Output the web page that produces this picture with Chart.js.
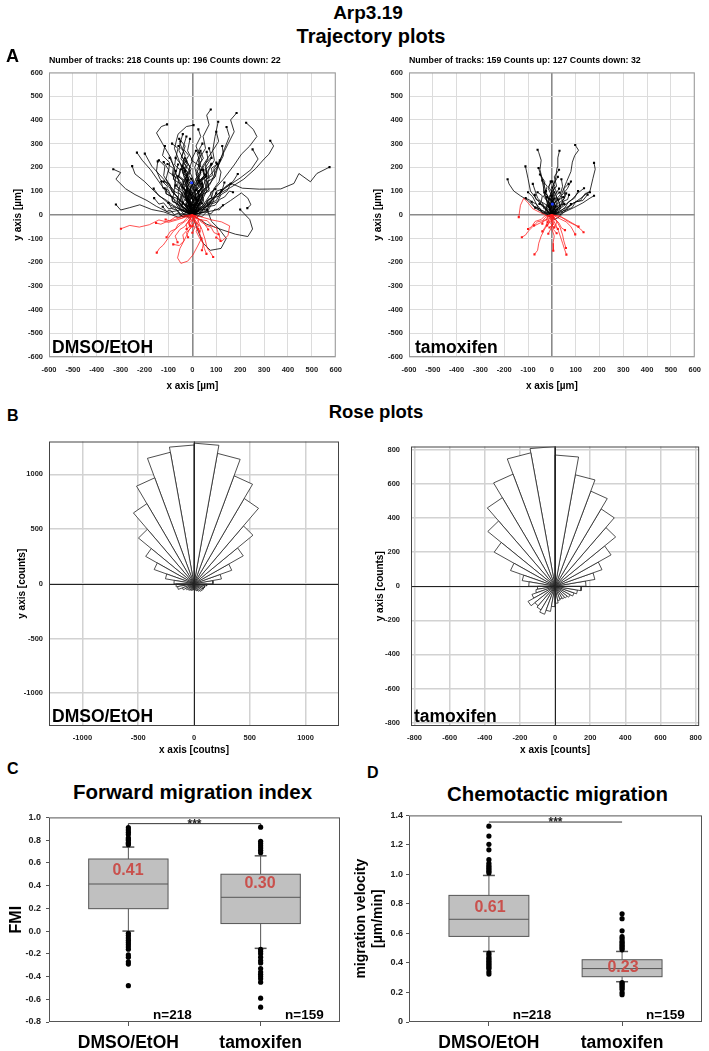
<!DOCTYPE html>
<html>
<head>
<meta charset="utf-8">
<title>Arp3.19</title>
<script src="https://cdn.jsdelivr.net/npm/chart.js@4.4.1/dist/chart.umd.min.js"></script>
<style>
  body { margin: 0; width: 709px; height: 1051px; position: relative; overflow: hidden; background: #fff; font-family: Arial, "Liberation Sans", sans-serif; }
  canvas { position: absolute; }
  .t { position: absolute; font-weight: bold; line-height: 1; white-space: nowrap; color: #000; }
  .c { width: 300px; text-align: center; }
  .red { color: #c9504c; }
</style>
</head>
<body>
<canvas id="trajDmso" width="350" height="330" style="left:0;top:62px"></canvas>
<canvas id="trajTam" width="349" height="330" style="left:360px;top:62px"></canvas>
<canvas id="roseDmso" width="350" height="325" style="left:0;top:431px"></canvas>
<canvas id="roseTam" width="349" height="325" style="left:360px;top:431px"></canvas>
<canvas id="fmiBox" width="350" height="244" style="left:0;top:807px"></canvas>
<canvas id="velBox" width="359" height="244" style="left:350px;top:807px"></canvas>

<div class="t c" style="font-size:19px;left:218px;top:2.5px">Arp3.19</div>
<div class="t c" style="font-size:20px;left:221px;top:25.7px">Trajectory plots</div>
<div class="t" style="font-size:18px;left:6px;top:47px">A</div>
<div class="t" style="font-size:8.8px;left:49px;top:56px">Number of tracks: 218 Counts up: 196 Counts down: 22</div>
<div class="t" style="font-size:8.8px;left:409px;top:56px">Number of tracks: 159 Counts up: 127 Counts down: 32</div>
<div class="t" style="font-size:17.5px;left:52px;top:339.4px">DMSO/EtOH</div>
<div class="t" style="font-size:17.5px;left:415px;top:339.4px">tamoxifen</div>

<div class="t c" style="font-size:18.5px;left:226px;top:403.3px">Rose plots</div>
<div class="t" style="font-size:16px;left:7px;top:408px">B</div>
<div class="t" style="font-size:17.5px;left:52px;top:707.7px">DMSO/EtOH</div>
<div class="t" style="font-size:17.5px;left:414px;top:707.7px">tamoxifen</div>

<div class="t" style="font-size:16px;left:7px;top:761px">C</div>
<div class="t" style="font-size:16px;left:367px;top:765px">D</div>
<div class="t c" style="font-size:20.5px;left:42.5px;top:782.3px">Forward migration index</div>
<div class="t c" style="font-size:20.4px;left:407.5px;top:784.3px">Chemotactic migration</div>
<div class="t c red" id="lab0" style="font-size:16px;left:-22px;top:862.2px"></div>
<div class="t c red" id="lab1" style="font-size:16px;left:110px;top:875.2px"></div>
<div class="t c red" id="lab2" style="font-size:16px;left:340px;top:898.9px"></div>
<div class="t c red" id="lab3" style="font-size:16px;left:473px;top:958.9px"></div>
<div class="t" id="n0" style="font-size:13.5px;left:153px;top:1007.5px"></div>
<div class="t" id="n1" style="font-size:13.5px;left:285px;top:1007.5px"></div>
<div class="t" id="n2" style="font-size:13.5px;left:512.7px;top:1007.5px"></div>
<div class="t" id="n3" style="font-size:13.5px;left:646px;top:1007.5px"></div>

<script>
// ---- data ----
const groups = ["DMSO/EtOH", "tamoxifen"];
const nCells = [218, 159];

// tracks in µm, "x,y x,y ..." from the start point
const dmsoTracks = [
  "0,0 -30,-10 -65,-22 -100,-32 -140,-22 -180,-42 -222,-52 -262,-45 -299,-59",
  "0,0 -20,-20 -50,-42 -80,-70 -102,-100 -122,-128 -138,-142 -149,-160",
  "0,0 10,-30 -12,-62 -30,-100 -52,-142 -62,-182 -48,-205 -20,-196 2,-170 22,-132 38,-100",
  "0,0 22,-22 40,-62 52,-100 62,-140 76,-160 87,-178",
  "0,0 15,-30 28,-72 42,-110 50,-142 59,-165",
  "0,0 40,-10 82,-22 122,-30 156,-47 152,-70 149,-88 122,-112 100,-96",
  "0,0 -12,-20 -32,-50 -52,-62 -72,-90 -62,-116",
  "0,0 5,-15 -6,-35 10,-55 0,-76",
  "0,0 -5,-10 -16,-25 -10,-46",
  "0,0 20,-10 36,-30 52,-40 66,-62",
  "0,0 -40,-5 -72,-20 -100,-26 -132,-40 -152,-35",
  "0,0 10,-20 26,-45 16,-70 31,-100 46,-122 40,-150",
  "0,0 -20,-5 -46,-15 -72,-10 -96,-26 -112,-20",
  "0,0 30,-20 62,-25 82,-46 101,-56 110,-82",
  "0,0 -8,-22 -25,-40 -22,-65 -40,-85 -35,-110 -55,-130 -80,-125",
  "0,0 12,-8 26,-20 22,-38 35,-52 30,-70",
  "0,0 -15,-30 -5,-55 -25,-75 -18,-95",
  "0,0 6,-12 -4,-22 8,-34 0,-48",
  "0,0 -25,-15 -38,-30 -60,-40 -70,-60 -92,-70 -108,-95",
  "0,0 18,-15 40,-22 55,-45 78,-52 90,-75 112,-85 118,-110",
  "0,0 -10,-12 -4,-26 -18,-36 -10,-50 -24,-60",
  "0,0 10,-12 4,-26 18,-36 10,-50 24,-60",
  "0,0 20,60 5,120 35,170 25,230 55,280 45,330 70,380 60,420 77,444",
  "0,0 30,50 55,110 95,160 115,230 150,300 175,350 160,400 185,429",
  "0,0 45,40 85,100 130,150 175,210 205,255 240,290 270,330 255,360 225,388",
  "0,0 -10,70 20,140 45,210 85,270 95,330 108,392",
  "0,0 30,70 75,130 105,200 135,280 155,330 143,370",
  "0,0 55,30 105,85 160,115 215,150 265,195 300,235 320,255 340,290 326,312",
  "0,0 60,40 115,95 155,125 200,155 245,190 275,235 252,276",
  "0,0 40,30 90,70 130,110 163,132 209,112 280,108 370,109 425,132 446,174 494,139 521,174 574,201",
  "0,0 -50,20 -100,10 -150,35 -190,60 -240,85 -280,110 -320,150 -300,178 -331,192",
  "0,0 -60,-10 -120,12 -170,22 -220,42 -262,30 -300,20 -320,43",
  "0,0 -40,50 -85,100 -120,150 -170,205 -199,258",
  "0,0 -30,80 -65,160 -90,240 -125,300 -150,345 -130,372 -106,381",
  "0,0 -20,100 -45,200 -75,280 -60,340 -25,372 5,378",
  "0,0 -70,60 -130,125 -175,190 -210,230 -232,262",
  "0,0 -90,40 -150,90 -200,140 -240,172 -252,205",
  "0,0 100,20 160,60 205,92 232,70 245,42 230,28",
  "0,0 60,-40 120,-62 180,-82 232,-92 252,-60 240,-20 200,22",
  "0,0 20,-60 45,-120 75,-150 120,-142 142,-100 112,-60 80,-28 62,22",
  "0,0 -10,30 5,60 -15,92 0,130 -22,162 -10,200 -30,238",
  "0,0 10,40 -5,80 15,112 30,150 18,190 40,230 30,262",
  "0,0 -20,20 -42,60 -30,100 -52,140 -70,172 -60,212",
  "0,0 15,25 36,55 25,95 45,122 62,160 55,200 80,240",
  "0,0 -5,50 -30,90 -18,130 -42,180 -35,230 -56,270 -50,310",
  "0,0 25,45 10,90 30,130 15,172 35,210 20,260 42,300",
  "0,0 -15,35 -45,50 -70,82 -92,120 -110,152 -100,190 -120,222",
  "0,0 30,20 55,45 80,72 90,110 112,140 120,180 100,220",
  "0,0 -25,-10 -50,20 -80,40 -110,62 -140,80 -162,110",
  "0,0 5,20 -10,45 10,72 -5,100 10,125 -5,152",
  "0,0 -10,15 -26,40 -15,65 -30,86 -20,110",
  "0,0 20,10 30,35 15,60 35,82 50,105 40,132",
  "0,0 -35,25 -55,55 -45,92 -65,120 -80,160 -75,200 -95,240",
  "0,0 40,60 60,100 50,150 70,190 92,230 85,270 110,310 100,350",
  "0,0 -30,40 -15,85 -40,120 -25,165 -45,200 -30,250 -52,300 -40,340",
  "0,0 10,55 -10,100 5,145 -15,190 0,230 -20,270 -10,320",
  "0,0 60,15 75,50 100,60 120,95 140,120 170,140 190,172",
  "0,0 -50,5 -75,30 -100,25 -120,50 -140,45 -160,70",
  "0,0 15,-15 35,5 50,30 70,40 85,70 100,90",
  "0,0 -15,-15 -30,5 -50,-5 -65,20 -85,25 -100,50",
  "0,0 5,30 20,55 5,80 -10,105 5,135 -15,165 -5,195 -25,225",
  "0,0 -5,25 -20,60 -5,95 -25,125 -15,155 -30,185",
  "0,0 35,35 20,70 45,100 30,135 50,165 45,200 65,235 60,265",
  "0,0 -40,15 -60,45 -85,60 -75,100 -100,130 -120,165 -115,205 -140,230",
  "0,0 25,5 45,25 65,15 80,45 105,55 120,85 145,100 160,130",
  "0,0 -20,45 0,75 -25,110 -10,140 -35,175 -20,210 -45,245 -30,290 -55,320",
  "0,0 10,15 25,40 40,60 35,90 55,115 70,150 65,185 80,215",
  "0,0 -8,12 -18,30 -5,48 -22,70 -10,90",
  "0,0 12,18 4,40 20,58 10,82 28,100",
  "0,0 -30,10 -45,35 -65,45 -60,75 -85,95 -95,130 -120,140",
  "0,0 45,10 70,35 95,40 115,65 135,75 155,100 170,95",
  "0,0 0,40 15,80 0,120 20,160 10,200 30,250 15,290 35,330 25,360",
  "0,0 -15,60 -35,110 -20,160 -45,210 -70,240 -60,280 -85,300",
  "0,0 20,30 45,80 70,110 60,150 85,180 110,210 130,250 125,290",
  "0,0 -45,35 -30,70 -60,95 -50,130 -80,150 -70,185",
  "0,0 8,35 30,50 20,85 40,110 30,145 55,170",
  "0,0 -12,40 8,70 -15,95 -5,130 -28,150 -20,180 -42,205",
  "0,0 -60,30 -80,70 -110,90 -105,120 -135,150 -150,185 -145,225",
  "0,0 50,45 40,85 70,100 65,140 95,160 90,195 115,230",
  "0,0 -25,70 -5,110 -30,145 -10,185 -35,215 -15,250 -40,280 -25,330",
  "0,0 15,70 40,95 25,135 50,160 40,200 -5,230 15,270",
  "0,0 -55,50 -40,90 -75,115 -70,160 -100,180 -95,220 -125,250 -115,290",
  "0,0 30,80 10,120 35,150 60,175 55,215 80,245 70,280",
  "0,0 -5,15 10,30 -3,50 12,65 0,85 15,105",
  "0,0 -3,20 -20,35 -12,55 -30,70 -25,95 -40,115",
  "0,0 -12,18 -4,36 -20,52 -8,70 -26,88 -14,108 -34,126 -20,146",
  "0,0 14,12 6,32 22,46 12,66 30,82 18,104 36,122 26,144",
  "0,0 -18,8 -30,26 -48,34 -40,54 -62,66 -56,88 -78,100 -70,124",
  "0,0 20,14 38,10 48,30 66,36 60,58 80,70 76,94 96,108",
  "0,0 -6,28 -26,44 -16,66 -36,80 -28,104 -48,120 -40,146 -60,162",
  "0,0 8,26 26,40 18,62 36,78 28,102 46,118 40,144 58,162",
  "0,0 -22,30 -10,58 -32,74 -22,100 -44,118 -34,146 -56,164 -48,192",
  "0,0 24,28 12,54 32,72 22,98 42,116 34,142 54,160 46,188",
  "0,0 -2,34 -18,58 -6,84 -24,104 -12,130 -30,150 -18,176 -36,198",
  "0,0 4,30 20,52 8,76 26,96 14,120 32,142 20,166 38,190",
  "0,0 -30,18 -52,24 -60,46 -82,54 -88,78 -110,88 -116,112",
  "0,0 30,22 50,20 62,42 84,48 92,72 114,80 122,104",
  "0,0 -10,40 -30,62 -20,92 -42,112 -36,142 -58,160 -52,190 -74,210 -70,240",
  "0,0 12,42 32,64 22,94 44,114 38,144 60,162 56,192 78,212",
  "0,0 -4,22 -14,14 -22,34 -12,50 -24,62",
  "0,0 6,22 16,14 22,34 14,50 26,62",
  "0,0 -16,4 -28,20 -24,40 -40,48",
  "0,0 16,4 28,20 24,40 40,48",
  "0,0 2,14 -8,24 4,34 -6,46 6,58 -4,70",
  "0,0 -40,-10 -56,8 -76,0 -92,20 -108,14 -124,34",
  "0,0 40,-8 58,10 78,4 94,24 112,20 128,40",
  "0,0 -20,60 -8,90 -28,120 -16,150 -38,176 -26,208 -48,236 -36,268 -58,290",
  "0,0 18,62 6,92 26,120 14,152 36,178 24,210 46,238 34,270",
  "0,0 -50,40 -66,70 -90,78 -100,104 -124,112 -130,140",
  "0,0 52,38 68,66 92,74 102,100 126,108 134,136",
  "0,0 -8,10 -2,22 -12,30 -4,42",
  "0,0 8,10 2,22 12,30 4,42",
  "0,0 -28,36 -46,64 -38,98 -62,118 -58,150 -84,166 -80,196 -104,214",
  "0,0 28,36 46,64 38,98 62,118 58,150 84,166 80,196 104,214"
];

const tamTracks = [
  "0,0 -20,-5 -50,10 -80,25 -100,50 -118,70 -132,40 -139,-10",
  "0,0 -20,-20 -50,-35 -80,-50 -100,-70 -110,-85 -126,-95",
  "0,0 -10,-30 -30,-60 -45,-90 -55,-120 -60,-150 -73,-167",
  "0,0 5,-30 0,-60 10,-90 5,-120 6,-152",
  "0,0 10,-30 25,-60 35,-90 45,-120 52,-142 61,-168",
  "0,0 20,-25 35,-55 45,-85 50,-110 59,-140",
  "0,0 30,-15 60,-30 80,-50 98,-83",
  "0,0 40,-10 70,-30 100,-45 120,-60 133,-74",
  "0,0 30,-5 60,-20 85,-35 112,-50",
  "0,0 -10,-15 -20,-35 -30,-55 -40,-70",
  "0,0 -5,-20 5,-40 -5,-60 -15,-80",
  "0,0 10,-10 20,-30 15,-50 25,-60",
  "0,0 -25,-10 -40,-25 -60,-30 -75,-45",
  "0,0 15,-20 30,-35 40,-55 55,-65",
  "0,0 -5,-10 -15,-20 -10,-35 -20,-45",
  "0,0 -30,-5 -45,-20 -70,-28 -85,-50 -100,-60",
  "0,0 8,-15 -2,-30 12,-45 6,-62 20,-78",
  "0,0 -12,-5 -22,-18 -18,-32",
  "0,0 -6,-10 2,-22 -8,-32 0,-44 -10,-54",
  "0,0 6,-10 -2,-22 8,-32 0,-44 10,-54",
  "0,0 -16,-6 -22,-20 -36,-24 -40,-38",
  "0,0 -10,40 -22,90 -38,140 -50,190 -45,230 -55,262 -60,274",
  "0,0 10,50 -2,100 15,150 22,200 25,240 32,270",
  "0,0 20,40 42,90 62,140 80,182 86,222 96,250 112,272 98,294",
  "0,0 40,20 82,42 122,70 160,100 172,152 182,192 177,219",
  "0,0 -30,30 -62,62 -90,100 -100,152 -111,204",
  "0,0 -40,10 -72,30 -100,60 -132,80 -160,100 -180,130 -186,150",
  "0,0 50,10 92,30 130,50 160,70 177,80",
  "0,0 40,30 80,60 110,92 135,112",
  "0,0 -20,50 -32,100 -42,150 -56,197",
  "0,0 -10,20 5,45 -5,70 10,95",
  "0,0 15,15 5,40 25,60 15,85 30,110",
  "0,0 -15,10 -25,35 -15,55 -35,75 -25,100",
  "0,0 20,5 35,25 30,50 50,65 60,90",
  "0,0 -20,-5 -35,15 -55,20 -65,45 -85,55",
  "0,0 5,25 -10,50 0,80 -15,110 -5,140",
  "0,0 25,30 15,60 35,85 45,120 40,150",
  "0,0 -25,20 -40,50 -60,70 -70,100 -80,130",
  "0,0 30,10 55,30 70,55 95,70 110,100",
  "0,0 -5,15 -15,35 -5,55 -20,75",
  "0,0 10,10 20,30 10,50 25,65",
  "0,0 -35,5 -50,25 -75,35 -90,60 -110,70",
  "0,0 40,0 60,20 85,30 100,55 130,60 150,85",
  "0,0 -10,30 10,60 -5,90 20,120 10,160 30,190",
  "0,0 20,20 45,50 40,80 65,110 80,140",
  "0,0 -20,30 -10,70 -35,100 -30,140 -50,170",
  "0,0 0,20 -10,40 5,60 -5,80",
  "0,0 15,35 0,65 20,95 5,125 25,160",
  "0,0 -45,20 -65,45 -80,75 -100,95",
  "0,0 60,20 90,50 120,60 140,90 160,95",
  "0,0 -15,45 -30,80 -20,120 -40,145",
  "0,0 35,40 55,75 50,110 70,130",
  "0,0 10,-20 30,-10 45,15 60,25 80,45",
  "0,0 -8,25 8,45 -4,70 12,90 2,115",
  "0,0 -28,15 -20,40 -45,55 -40,80 -60,95",
  "0,0 18,8 12,30 32,40 28,62 48,75",
  "0,0 -12,-8 -25,10 -40,5 -50,25 -70,30",
  "0,0 -6,12 4,22 -4,34 8,44 0,58 12,68",
  "0,0 6,12 -4,22 4,34 -8,44 0,58 -12,68",
  "0,0 -14,8 -20,22 -34,26 -38,42 -52,46",
  "0,0 14,8 20,22 34,26 38,42 52,46",
  "0,0 -4,20 -16,32 -10,50 -24,62 -18,82 -32,94",
  "0,0 4,20 16,32 10,50 24,62 18,82 32,94",
  "0,0 -2,10 -10,16 -6,28 -14,36",
  "0,0 2,10 10,16 6,28 14,36",
  "0,0 -20,14 -28,32 -44,38 -50,58 -66,64 -72,84",
  "0,0 20,14 28,32 44,38 50,58 66,64 72,84",
  "0,0 -10,30 2,52 -12,72 0,96 -14,118 -2,140",
  "0,0 10,30 -2,52 12,72 0,96 14,118 2,140"
];

const dmsoCentre = { x: -3, y: 135 };
const tamCentre = { x: 2, y: 45 };

// rose plots: counts per 10 degree bin, clockwise from north
const roseBinDeg = 10;
const roseDmso = [1285, 1210, 1050, 900, 690, 510, 360, 250, 170, 115, 100, 95, 95, 90, 80, 70, 60, 55,
                  55, 60, 65, 70, 75, 85, 110, 150, 160, 180, 260, 380, 500, 650, 845, 1030, 1220, 1268];
const roseTam = [770, 664, 594, 524, 450, 368, 284, 230, 176, 150, 130, 115, 100, 90, 85, 80, 85, 100,
                 120, 150, 175, 160, 150, 178, 140, 110, 100, 150, 190, 270, 400, 500, 600, 700, 795, 820];
const roseDmsoTicks = [-1000, -500, 0, 500, 1000];
const roseTamTicks = [-800, -600, -400, -200, 0, 200, 400, 600, 800];

// forward migration index
const fmiLow = [0.0, -0.152];
const fmiQ1 = [0.197, 0.066];
const fmiMedian = [0.414, 0.297];
const fmiQ3 = [0.634, 0.5];
const fmiHigh = [0.739, 0.662];
const fmiOutDmso = [0.91, 0.89, 0.87, 0.85, 0.82, 0.81, 0.8, 0.78, 0.77, 0.76,
                    -0.02, -0.04, -0.06, -0.08, -0.1, -0.12, -0.14, -0.16, -0.21, -0.23, -0.27, -0.29, -0.48];
const fmiOutTam = [0.914, 0.79, 0.77, 0.75, 0.73, 0.71, 0.69,
                   -0.16, -0.18, -0.2, -0.23, -0.26, -0.28, -0.33, -0.36, -0.38, -0.4, -0.42, -0.45, -0.59, -0.67];
const fmiLabels = ["0.41", "0.30"];

// migration velocity
const velLow = [0.478, 0.273];
const velQ1 = [0.58, 0.307];
const velMedian = [0.696, 0.362];
const velQ3 = [0.858, 0.422];
const velHigh = [0.993, 0.478];
const velOutDmso = [1.327, 1.26, 1.204, 1.167, 1.1, 1.075, 1.06, 1.05, 1.04, 1.03, 1.02, 1.01,
                    0.467, 0.455, 0.44, 0.43, 0.42, 0.41, 0.4, 0.39, 0.38, 0.37, 0.36, 0.34, 0.325];
const velOutTam = [0.733, 0.7, 0.618, 0.578, 0.565, 0.55, 0.54, 0.53, 0.52, 0.51, 0.5, 0.489,
                   0.267, 0.26, 0.25, 0.24, 0.23, 0.22, 0.2, 0.185];
const velLabels = ["0.61", "0.23"];

// ---- chart setup ----
Chart.defaults.font.family = "Arial, 'Liberation Sans', sans-serif";
Chart.defaults.color = "#222";
Chart.defaults.animation = false;
Chart.defaults.plugins.legend.display = false;
Chart.defaults.plugins.tooltip.enabled = false;

const framePlugin = {
  id: "frame",
  afterDraw(chart, args, opts) {
    const a = chart.chartArea;
    const ctx = chart.ctx;
    ctx.save();
    ctx.strokeStyle = opts.color;
    ctx.lineWidth = opts.width;
    ctx.strokeRect(a.left + 0.5, a.top + 0.5, a.right - a.left - 1, a.bottom - a.top - 1);
    ctx.restore();
  },
};

const zeroAxesPlugin = {
  id: "zeroAxes",
  afterDatasetsDraw(chart) {
    const { ctx, chartArea: a, scales } = chart;
    const x0 = Math.round(scales.x.getPixelForValue(0)) + 0.5;
    const y0 = Math.round(scales.y.getPixelForValue(0)) + 0.5;
    ctx.save();
    ctx.strokeStyle = "#222";
    ctx.lineWidth = 1;
    ctx.beginPath();
    ctx.moveTo(x0, a.top);
    ctx.lineTo(x0, a.bottom);
    ctx.moveTo(a.left, y0);
    ctx.lineTo(a.right, y0);
    ctx.stroke();
    ctx.restore();
  },
};

const boxPlugin = {
  id: "boxes",
  beforeDatasetsDraw(chart, args, o) {
    const { ctx, scales: { x, y } } = chart;
    const line = (x1, y1, x2, y2) => { ctx.beginPath(); ctx.moveTo(x1, y1); ctx.lineTo(x2, y2); ctx.stroke(); };
    ctx.save();
    ctx.strokeStyle = "#555";
    ctx.lineWidth = 1;
    for (let i = 0; i < o.q1.length; i++) {
      const cx = x.getPixelForValue(i);
      const l = x.getPixelForValue(i - o.half);
      const r = x.getPixelForValue(i + o.half);
      const cl = x.getPixelForValue(i - o.cap);
      const cr = x.getPixelForValue(i + o.cap);
      const pLow = y.getPixelForValue(o.low[i]);
      const pQ1 = y.getPixelForValue(o.q1[i]);
      const pMed = y.getPixelForValue(o.median[i]);
      const pQ3 = y.getPixelForValue(o.q3[i]);
      const pHigh = y.getPixelForValue(o.high[i]);
      line(cx, pQ3, cx, pHigh);
      line(cx, pQ1, cx, pLow);
      ctx.lineWidth = 1.5;
      line(cl, pHigh, cr, pHigh);
      line(cl, pLow, cr, pLow);
      ctx.lineWidth = 1;
      ctx.fillStyle = "#c0c0c0";
      ctx.fillRect(l, pQ3, r - l, pQ1 - pQ3);
      ctx.strokeRect(l, pQ3, r - l, pQ1 - pQ3);
      line(l, pMed, r, pMed);
    }
    const by = y.getPixelForValue(o.bracket);
    const bd = y.getPixelForValue(o.bracket - o.drop);
    const bx0 = x.getPixelForValue(0);
    const bx1 = x.getPixelForValue(1);
    ctx.strokeStyle = "#333";
    line(bx0, by, bx1, by);
    if (o.drop > 0) {
      line(bx0, by, bx0, bd);
      line(bx1, by, bx1, bd);
    }
    ctx.fillStyle = "#222";
    ctx.font = "bold 12px Arial, 'Liberation Sans', sans-serif";
    ctx.textAlign = "center";
    ctx.textBaseline = "middle";
    ctx.fillText("***", (bx0 + bx1) / 2, by + 1);
    ctx.restore();
  },
};

function toPoints(track) {
  return track.split(" ").map((p) => {
    const [x, y] = p.split(",").map(Number);
    return { x, y };
  });
}

function trajectoryChart(id, tracks, centre, padRight) {
  const red = [];
  const black = [];
  for (const t of tracks) {
    const pts = toPoints(t);
    const last = pts.length - 1;
    const down = pts[last].y < 0;
    const col = down ? "#ff1a1a" : "#000000";
    const ds = {
      data: pts,
      showLine: true,
      borderColor: col,
      borderWidth: down ? 0.75 : 0.8,
      pointStyle: "rect",
      pointBackgroundColor: col,
      pointBorderWidth: 0,
      pointRadius: (c) => (c.dataIndex === last ? 1.5 : 0),
    };
    if (down) red.push(ds);
    else black.push(ds);
  }
  const centreDs = { data: [centre], pointRadius: 1.6, pointBackgroundColor: "#1f3cff", pointBorderWidth: 0 };

  const gridColor = (c) => (c.tick && c.tick.value === 0 ? "#8a8a8a" : "#dcdcdc");
  const gridWidth = (c) => (c.tick && c.tick.value === 0 ? 1.6 : 1);

  return new Chart(document.getElementById(id), {
    type: "scatter",
    data: { datasets: [centreDs, ...red, ...black] },
    options: {
      responsive: false,
      layout: { padding: { top: 5, right: padRight, left: 0, bottom: 0 } },
      scales: {
        x: {
          type: "linear",
          min: -600,
          max: 600,
          afterFit: (s) => { s.height = 35; },
          ticks: { stepSize: 100, autoSkip: false, maxRotation: 0, padding: 8, color: "#222", font: { size: 7.5, weight: "bold" } },
          grid: { color: gridColor, lineWidth: gridWidth, drawTicks: false },
          border: { display: false },
          title: { display: true, text: "x axis [µm]", color: "#000", font: { size: 10, weight: "bold" }, padding: { top: 0, bottom: 0 } },
        },
        y: {
          type: "linear",
          min: -600,
          max: 600,
          afterFit: (s) => { s.width = 49; },
          ticks: { stepSize: 100, autoSkip: false, padding: 6, color: "#222", font: { size: 7.5, weight: "bold" } },
          grid: { color: gridColor, lineWidth: gridWidth, drawTicks: false },
          border: { display: false },
          title: { display: true, text: "y axis [µm]", color: "#000", font: { size: 10, weight: "bold" }, padding: { top: 12, bottom: 0 } },
        },
      },
      plugins: { frame: { color: "#9a9a9a", width: 1 } },
    },
    plugins: [framePlugin],
  });
}

function roseChart(id, radii, lim, tickVals, yWidth, padRight, xTitle, yPad, titlePad) {
  const datasets = radii.map((r, i) => {
    const a1 = (i * roseBinDeg * Math.PI) / 180;
    const a2 = ((i + 1) * roseBinDeg * Math.PI) / 180;
    return {
      data: [
        { x: 0, y: 0 },
        { x: r * Math.sin(a1), y: r * Math.cos(a1) },
        { x: r * Math.sin(a2), y: r * Math.cos(a2) },
        { x: 0, y: 0 },
      ],
      showLine: true,
      fill: "shape",
      backgroundColor: "#ffffff",
      borderColor: "#222",
      borderWidth: 0.8,
      pointRadius: 0,
    };
  });
  const setTicks = (s) => { s.ticks = tickVals.map((v) => ({ value: v })); };
  const tickFont = { size: 7.5, weight: "bold" };
  const plain = (v) => String(v);
  return new Chart(document.getElementById(id), {
    type: "scatter",
    data: { datasets },
    options: {
      responsive: false,
      layout: { padding: { top: 5, right: padRight, left: 0, bottom: 0 } },
      scales: {
        x: {
          type: "linear",
          min: -lim,
          max: lim,
          afterBuildTicks: setTicks,
          afterFit: (s) => { s.height = 30; },
          ticks: { autoSkip: false, maxRotation: 0, padding: 7, color: "#222", font: tickFont, callback: plain },
          grid: { color: "#d2d2d2", lineWidth: 1.5, drawTicks: false },
          border: { display: false },
          title: { display: true, text: xTitle, color: "#000", font: { size: 10, weight: "bold" }, padding: { top: 0, bottom: 0 } },
        },
        y: {
          type: "linear",
          min: -lim,
          max: lim,
          afterBuildTicks: setTicks,
          afterFit: (s) => { s.width = yWidth; },
          ticks: { autoSkip: false, padding: yPad, color: "#222", font: tickFont, callback: plain },
          grid: { color: "#d2d2d2", lineWidth: 1.5, drawTicks: false },
          border: { display: false },
          title: { display: true, text: "y axis [counts]", color: "#000", font: { size: 10, weight: "bold" }, padding: { top: titlePad, bottom: 0 } },
        },
      },
      plugins: { frame: { color: "#444", width: 1 } },
    },
    plugins: [zeroAxesPlugin, framePlugin],
  });
}

function boxChart(id, cfg) {
  const outlier = (vals, i) => ({
    data: vals.map((v) => ({ x: i, y: v })),
    pointRadius: 2.6,
    pointBackgroundColor: "#000",
    pointBorderWidth: 0,
  });
  return new Chart(document.getElementById(id), {
    type: "scatter",
    data: { datasets: [outlier(cfg.out[0], 0), outlier(cfg.out[1], 1)] },
    options: {
      responsive: false,
      layout: { padding: { top: 5, right: cfg.padRight, left: 0, bottom: 0 } },
      scales: {
        x: {
          type: "linear",
          min: -0.6,
          max: 1.6,
          afterBuildTicks: (s) => { s.ticks = [{ value: 0 }, { value: 1 }]; },
          afterFit: (s) => { s.height = 29; },
          ticks: { callback: (v, i) => groups[i], autoSkip: false, maxRotation: 0, padding: 7, color: "#000", font: { size: 17.5, weight: "bold" } },
          grid: { drawOnChartArea: false, tickLength: 4, color: "#555" },
          border: { display: false },
        },
        y: {
          type: "linear",
          min: cfg.min,
          max: cfg.max,
          afterFit: (s) => { s.width = cfg.yWidth; },
          ticks: { stepSize: 0.2, autoSkip: false, padding: cfg.tickPad, color: "#222", font: { size: 9, weight: "bold" }, callback: cfg.fmt },
          grid: { drawOnChartArea: false, tickLength: 3, color: "#555" },
          border: { display: false },
          title: { display: true, text: cfg.title, color: "#000", font: { size: cfg.titleSize, weight: "bold" }, padding: { top: cfg.titlePad, bottom: 0 } },
        },
      },
      plugins: {
        frame: { color: "#555", width: 1 },
        boxes: {
          low: cfg.low, q1: cfg.q1, median: cfg.median, q3: cfg.q3, high: cfg.high,
          half: 0.3, cap: 0.045, bracket: cfg.bracket, drop: cfg.drop,
        },
      },
    },
    plugins: [boxPlugin, framePlugin],
  });
}

trajectoryChart("trajDmso", dmsoTracks, dmsoCentre, 11);
trajectoryChart("trajTam", tamTracks, tamCentre, 9);

roseChart("roseDmso", roseDmso, 1300, roseDmsoTicks, 49, 11, "x axis [coutns]", 6, 16);
roseChart("roseTam", roseTam, 820, roseTamTicks, 51, 8, "x axis [counts]", 11, 14);

boxChart("fmiBox", {
  out: [fmiOutDmso, fmiOutTam],
  low: fmiLow, q1: fmiQ1, median: fmiMedian, q3: fmiQ3, high: fmiHigh,
  min: -0.8, max: 1.0, padRight: 10, yWidth: 49, tickPad: 5,
  fmt: (v) => (Math.abs(v) < 1e-9 ? "0.0" : v.toFixed(1)),
  title: "FMI", titleSize: 16, titlePad: 7,
  bracket: 0.945, drop: 0.02,
});

boxChart("velBox", {
  out: [velOutDmso, velOutTam],
  low: velLow, q1: velQ1, median: velMedian, q3: velQ3, high: velHigh,
  min: 0, max: 1.4, padRight: 7, yWidth: 59, tickPad: 3,
  fmt: (v) => (Math.abs(v) < 1e-9 ? "0" : v.toFixed(1)),
  title: ["migration velocity", "[µm/min]"], titleSize: 14, titlePad: 3,
  bracket: 1.355, drop: 0,
});

document.getElementById("lab0").textContent = fmiLabels[0];
document.getElementById("lab1").textContent = fmiLabels[1];
document.getElementById("lab2").textContent = velLabels[0];
document.getElementById("lab3").textContent = velLabels[1];
["n0", "n1", "n2", "n3"].forEach((id, i) => {
  document.getElementById(id).textContent = "n=" + nCells[i % 2];
});
</script>
</body>
</html>
